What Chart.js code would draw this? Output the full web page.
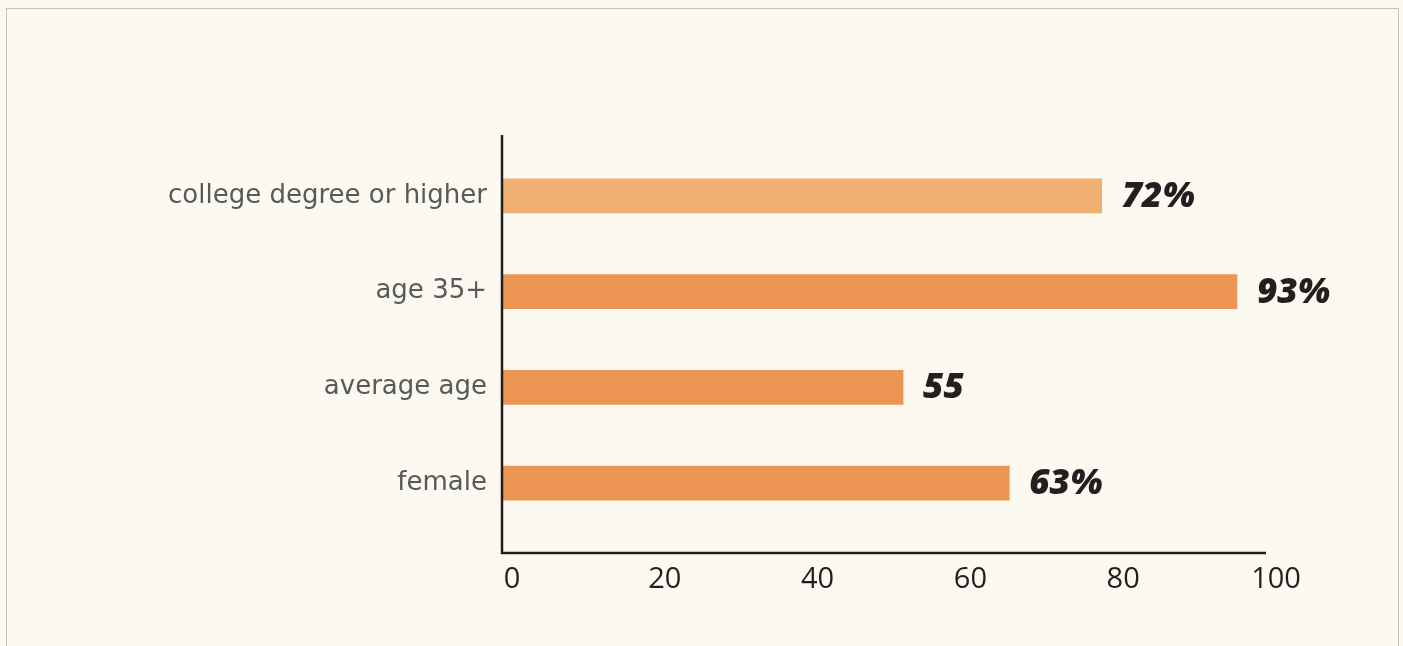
<!DOCTYPE html>
<html>
<head>
<meta charset="utf-8">
<script src="https://cdn.jsdelivr.net/npm/chart.js"></script>
<style>
  html, body { margin: 0; padding: 0; background: #fcf9f1; overflow: hidden; }
  #frame {
    position: absolute; left: 6px; top: 8px; width: 1393px; height: 700px;
    border: 1.5px solid #c4c1bb; box-sizing: border-box;
  }
  #wrap { position: absolute; left: 0; top: 0; width: 1403px; height: 646px; }
</style>
</head>
<body>
<div id="frame"></div>
<div id="wrap"><canvas id="profileChart" width="1403" height="646"></canvas></div>
<script>
// chart data
const categories = ["college degree or higher", "age 35+", "average age", "female"];
const barValues = [78.5, 96.2, 52.5, 66.4];      // bar lengths as drawn on the axis
const valueLabels = ["72%", "93%", "55", "63%"];  // printed labels next to bars
const barColors = ["#f0b072", "#ec9552", "#ec9552", "#ec9552"];
const xTicks = [0, 20, 40, 60, 80, 100];

const AXIS_COLOR = "#231f20";

// Draw the axis lines a bit longer than the category band, like the original
const axisLines = {
    id: "axisLines",
    afterDatasetsDraw(chart) {
        const { ctx, chartArea } = chart;
        ctx.save();
        ctx.strokeStyle = AXIS_COLOR;
        ctx.lineWidth = 2.5;
        ctx.beginPath();
        ctx.moveTo(chartArea.left, chartArea.top - 13);
        ctx.lineTo(chartArea.left, chartArea.bottom + 22);
        ctx.lineTo(chartArea.right, chartArea.bottom + 22);
        ctx.stroke();
        ctx.restore();
    }
};

// Bold italic value labels at the end of each bar
const valueLabelPlugin = {
    id: "valueLabels",
    afterDatasetsDraw(chart) {
        const { ctx } = chart;
        const meta = chart.getDatasetMeta(0);
        ctx.save();
        ctx.fillStyle = AXIS_COLOR;
        ctx.font = "italic 800 35px 'Open Sans'";
        ctx.textBaseline = "middle";
        ctx.textAlign = "left";
        meta.data.forEach((bar, i) => {
            ctx.fillText(valueLabels[i], bar.x + 20, bar.y + 1);
        });
        ctx.restore();
    }
};

new Chart(document.getElementById("profileChart").getContext("2d"), {
    type: "bar",
    data: {
        labels: categories,
        datasets: [{
            data: barValues,
            backgroundColor: barColors,
            barThickness: 34,
            borderWidth: 0
        }]
    },
    options: {
        indexAxis: "y",
        responsive: false,
        animation: false,
        layout: { padding: { left: 0, right: 137, top: 148, bottom: 0 } },
        plugins: { legend: { display: false }, tooltip: { enabled: false } },
        scales: {
            x: {
                min: 0,
                max: 100,
                afterBuildTicks: axis => { axis.ticks = xTicks.map(v => ({ value: v })); },
                afterFit: axis => { axis.height = 646 - 531; },
                grid: { display: false, drawTicks: false },
                border: { display: false },
                ticks: {
                    color: AXIS_COLOR,
                    padding: 31,
                    labelOffset: 10,
                    font: { family: "'Open Sans'", size: 29 }
                }
            },
            y: {
                afterFit: axis => { axis.width = 502; },
                grid: { display: false, drawTicks: false },
                border: { display: false },
                ticks: {
                    color: "#58595b",
                    padding: 15,
                    font: { family: "'DejaVu Sans'", size: 26 }
                }
            }
        }
    },
    plugins: [axisLines, valueLabelPlugin]
});
</script>
</body>
</html>
